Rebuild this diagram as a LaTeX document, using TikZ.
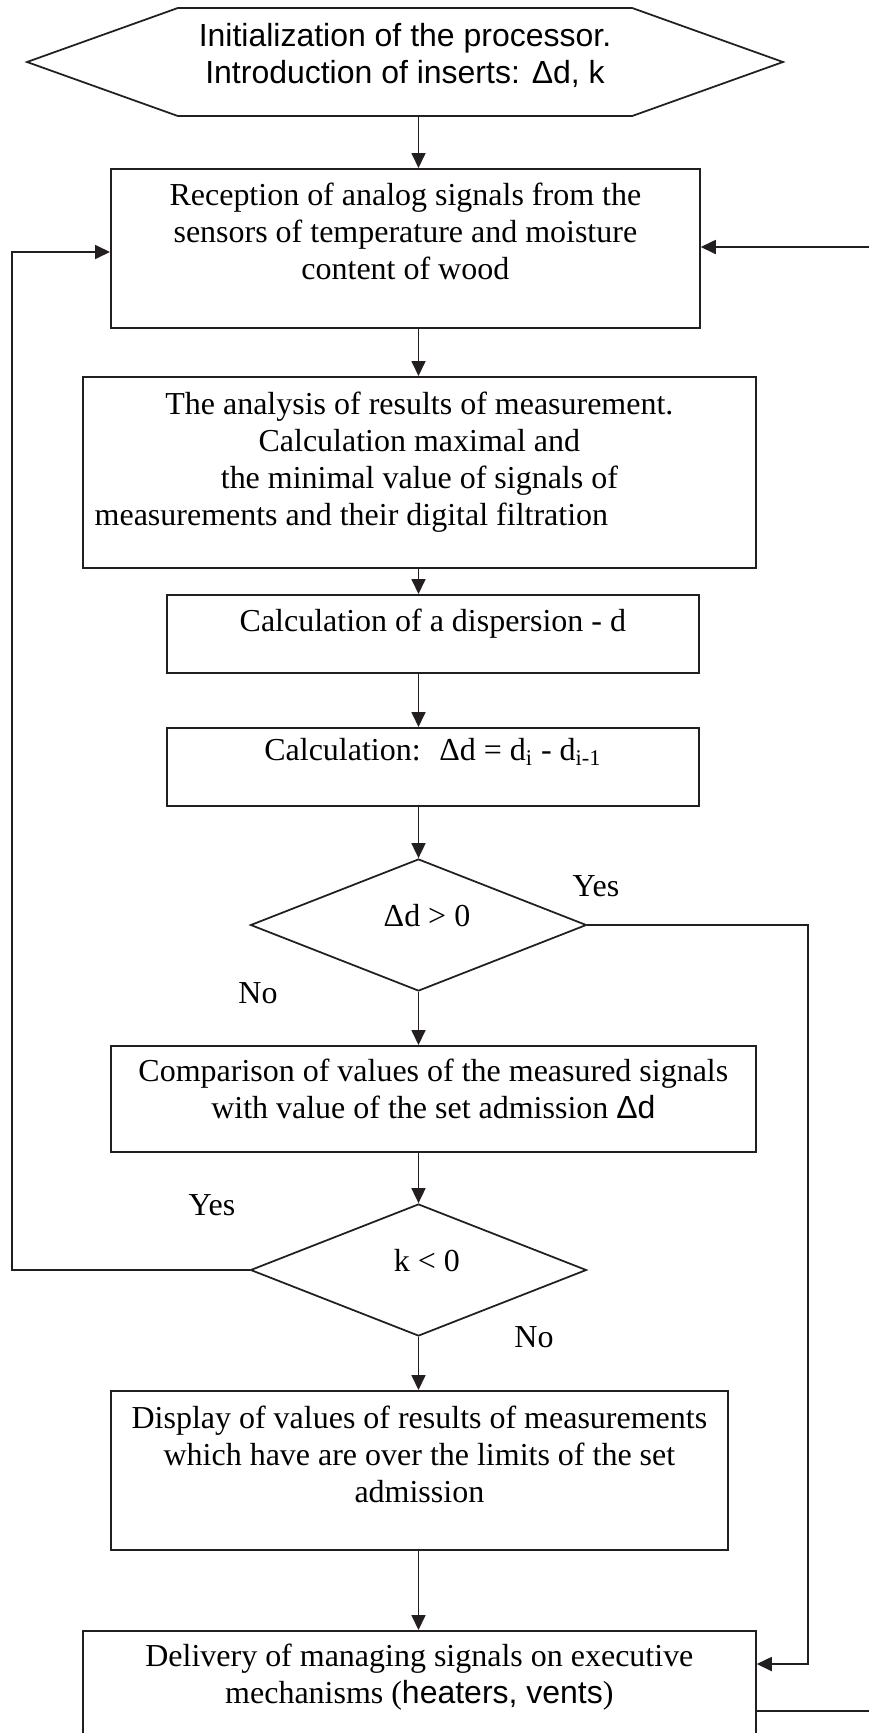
\documentclass[tikz,border=0pt]{standalone}
\usepackage{fontspec}
\setmainfont{Liberation Serif}
\newfontfamily\arialfont{Liberation Sans}
\usepackage{tikz}
\usetikzlibrary{arrows.meta, shapes.geometric, shapes.symbols}
\definecolor{ink}{HTML}{231F20}
\newcommand{\txtsize}{\fontsize{18.2}{21}\selectfont}

\begin{document}
\begin{tikzpicture}[font=\txtsize]
  \tikzstyle{bx}=[draw=ink, line width=1pt, rectangle, inner sep=0pt,
    align=flush center, anchor=north west]
  \tikzstyle{dm}=[draw=ink, line width=1pt, diamond, inner sep=0pt,
    minimum width=6.72cm, minimum height=2.64cm,
    text height=0.3cm, text depth=0.24cm]
  \tikzstyle{ar}=[draw=ink, line width=1pt,
    -{Triangle[length=0.3cm, width=0.28cm]}]
  \tikzstyle{ln}=[draw=ink, line width=1pt]

  \useasboundingbox (0,0) rectangle (17.38,-34.66);
  \clip (0,0) rectangle (17.38,-34.66);

  \node[draw=ink, line width=1pt, signal, signal to=west and east,
    signal pointer angle=39.4, minimum width=15.12cm, minimum height=2.16cm,
    inner sep=0pt, text width=8.6cm, text height=0.5cm, text depth=1.12cm,
    align=flush center, font=\txtsize\arialfont] (ini) at (8.1,-1.24)
    {Initialization of the processor.\\ Introduction of inserts: Δd, k};

  \node[bx, text width=11.78cm, text height=0.74cm, text depth=2.44cm]
    (rec) at (2.2,-3.36)
    {Reception of analog signals from the\\ sensors of temperature and moisture\\ content of wood};
  \node[bx, text width=13.46cm, text height=0.76cm, text depth=3.06cm]
    (ana) at (1.64,-7.52)
    {The analysis of results of measurement.\\ Calculation maximal and\\
     the minimal value of signals of\\ measurements and their digital filtration\rule{2.72cm}{0pt}};
  \node[bx, text width=10.64cm, text height=0.73cm, text depth=0.83cm]
    (dsp) at (3.32,-11.88) {Calculation of a dispersion - d};
  \node[bx, text width=10.64cm, text height=0.66cm, text depth=0.9cm]
    (dlt) at (3.32,-14.54)
    {Calculation:~ Δd = d\textsubscript{i} - d\textsubscript{i-1}};

  \node[dm] (d1) at (8.37,-18.5) {\rule{0.34cm}{0pt}Δd > 0};

  \node[bx, text width=12.9cm, text height=0.71cm, text depth=1.41cm]
    (cmp) at (2.2,-20.9)
    {Comparison of values of the measured signals\\ with value of the set admission {\arialfont Δd}};

  \node[dm] (d2) at (8.37,-25.4) {\rule{0.34cm}{0pt}k < 0};

  \node[bx, text width=12.34cm, text height=0.75cm, text depth=2.43cm]
    (shw) at (2.2,-27.8)
    {Display of values of results of measurements\\ which have are over the limits of the set\\ admission};
  \node[bx, text width=13.46cm, text height=0.71cm, text depth=2.6cm]
    (out) at (1.64,-32.6)
    {Delivery of managing signals on executive\\ mechanisms ({\arialfont heaters, vents})};

  % branch labels
  \node (y1) at (11.92,-17.72) {Yes};
  \node (n1) at (5.16,-19.86) {No};
  \node (y2) at (4.24,-24.1) {Yes};
  \node (n2) at (10.68,-26.74) {No};

  \coordinate (col) at (8.37,0);
  \coordinate (lp)  at (0.24,-5.04);
  \coordinate (rp)  at (16.16,-33.28);
  \coordinate (rin) at (17.5,-4.94);
  \coordinate (bo)  at (17.5,-34.22);

  \draw[ar] (ini.south -| col) -- (rec.north -| col);
  \draw[ar] (rec.south -| col) -- (ana.north -| col);
  \draw[ar] (ana.south -| col) -- (dsp.north -| col);
  \draw[ar] (dsp.south -| col) -- (dlt.north -| col);
  \draw[ar] (dlt.south -| col) -- (d1.north);
  \draw[ar] (d1.south) -- (cmp.north -| col);
  \draw[ar] (cmp.south -| col) -- (d2.north);
  \draw[ar] (d2.south) -- (shw.north -| col);
  \draw[ar] (shw.south -| col) -- (out.north -| col);

  \draw[ar] (d2.west) -- (d2.west -| lp) -- (lp) -- (lp -| rec.west);
  \draw[ar] (d1.east) -| (rp) -- (rp -| out.east);
  \draw[ar] (rin) -- (rin -| rec.east);
  \draw[ln] (bo -| out.east) -- (bo);
\end{tikzpicture}
\end{document}
